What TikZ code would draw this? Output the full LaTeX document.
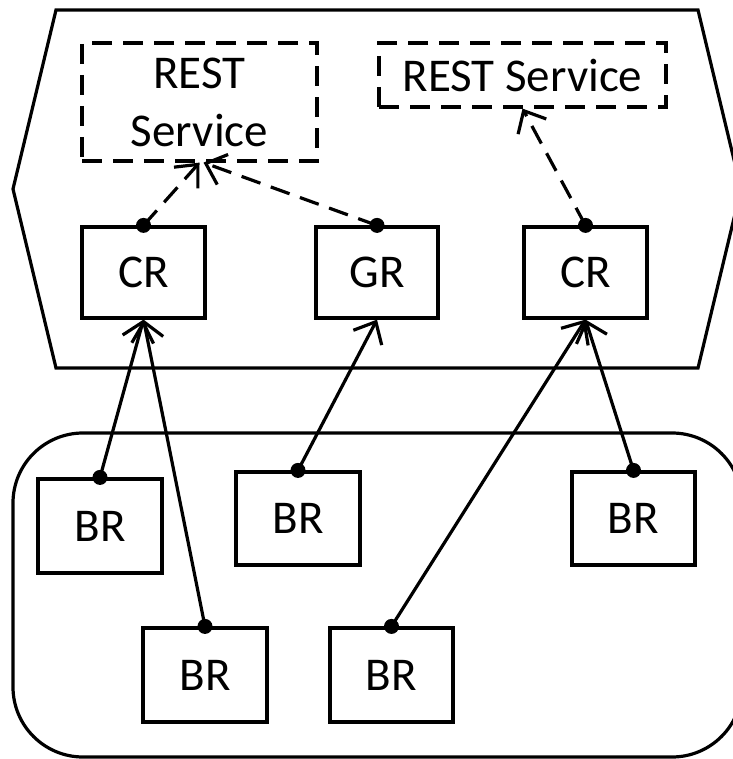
\documentclass[tikz,border=0pt]{standalone}
\usepackage{fontspec}
\setmainfont{Carlito}
\usetikzlibrary{arrows.meta}
\begin{document}
\begin{tikzpicture}[x=1pt,y=-1pt,line width=3.2pt,
  box/.style={draw,rectangle,inner sep=0pt,font=\fontsize{47}{58}\selectfont},
  dbox/.style={box,dash pattern=on 20pt off 11pt},
  link/.style={-{Straight Barb[length=18pt,width=32pt,line width=3.2pt]}},
  dlink/.style={link,dash pattern=on 20pt off 11pt},
  dot/.style={fill=black}]
\useasboundingbox (0,0) rectangle (732,759);
% outer shapes
\draw (56,10) -- (698,10) -- (741,189) -- (698,368) -- (56,368) -- (13,189) -- cycle;
\draw[rounded corners=70pt] (13,433) rectangle (742,757);
% nodes
\node[dbox,minimum width=235pt,minimum height=118pt,align=center] (rs1) at (199.5,102) {REST\\Service};
\node[dbox,minimum width=287pt,minimum height=64pt] (rs2) at (522.5,75) {REST Service};
\node[box,minimum width=123pt,minimum height=91pt] (cr1) at (143.5,272.5) {CR};
\node[box,minimum width=122pt,minimum height=91pt] (gr) at (377,272.5) {GR};
\node[box,minimum width=123pt,minimum height=91pt] (cr2) at (585.5,272.5) {CR};
\node[box,minimum width=124pt,minimum height=94pt] (br1) at (100,526) {BR};
\node[box,minimum width=124pt,minimum height=93pt] (br2) at (298,518.5) {BR};
\node[box,minimum width=123pt,minimum height=93pt] (br5) at (633.5,518.5) {BR};
\node[box,minimum width=124pt,minimum height=94pt] (br3) at (205,675) {BR};
\node[box,minimum width=123pt,minimum height=94pt] (br4) at (391.5,675) {BR};
% dashed links
\draw[dlink] (cr1.north) -- (rs1.south);
\draw[dlink] (gr.north) -- ([xshift=4pt]rs1.south);
\draw[dlink] (cr2.north) -- (rs2.south);
% solid links
\draw[link] (br1.north) -- (cr1.south);
\draw[link] (br3.north) -- (cr1.south);
\draw[link] (br2.north) -- (gr.south);
\draw[link] (br4.north) -- (cr2.south);
\draw[link] (br5.north) -- (cr2.south);
% dots
\foreach \n in {cr1,gr,cr2,br1,br2,br3,br4,br5}
  \fill (\n.north) circle (7.5pt);
\end{tikzpicture}
\end{document}
